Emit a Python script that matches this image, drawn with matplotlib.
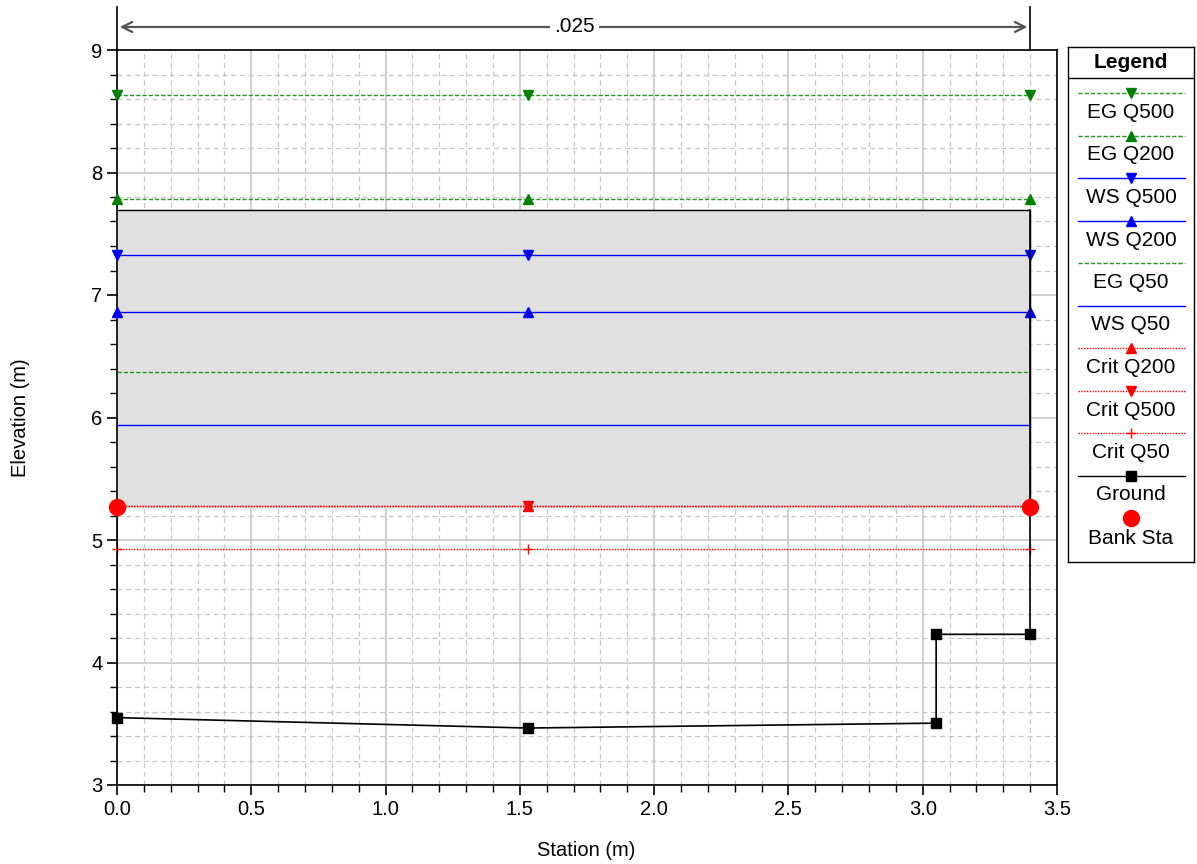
import matplotlib
matplotlib.use("Agg")
import matplotlib.pyplot as plt
from matplotlib.ticker import MultipleLocator, FormatStrFormatter

plt.rcParams['font.family'] = ['Liberation Sans', 'DejaVu Sans']

# ---- data ----
stations = [0.0, 1.53, 3.4]
eg_q500 = 8.63
eg_q200 = 7.78
ws_q500 = 7.33
ws_q200 = 6.86
eg_q50 = 6.37
ws_q50 = 5.94
crit_q200 = 5.28
crit_q500 = 5.28
crit_q50 = 4.93
bank_sta_x = [0.0, 3.4]
bank_sta_y = [5.27, 5.27]
ground_x = [0.0, 1.53, 3.05, 3.05, 3.4]
ground_y = [3.55, 3.465, 3.505, 4.23, 4.23]
lid_low = 5.27
lid_high = 7.69
lid_x = [0.0, 3.4]
mannings_label = ".025"

fig = plt.figure(figsize=(11.97, 8.64), dpi=100)
ax = fig.add_axes([117/1197, 1-785/864, 940/1197, 735/864])

ax.set_xlim(0, 3.5)
ax.set_ylim(3, 9)
ax.xaxis.set_major_locator(MultipleLocator(0.5))
ax.xaxis.set_minor_locator(MultipleLocator(0.1))
ax.yaxis.set_major_locator(MultipleLocator(1))
ax.yaxis.set_minor_locator(MultipleLocator(0.2))
ax.grid(which='major', color='#c8c8c8', linewidth=1.2, linestyle='-')
ax.grid(which='minor', color='#c8c8c8', linewidth=0.9, linestyle=(0, (4, 3)))
ax.set_axisbelow(True)
ax.tick_params(which='major', length=7, width=1.2, labelsize=14.5, direction='out')
ax.tick_params(which='minor', length=5, width=1.0, direction='out')
ax.xaxis.set_major_formatter(FormatStrFormatter('%.1f'))
for s in ax.spines.values():
    s.set_linewidth(1.2)

ax.set_xlabel('Station (m)', fontsize=14.5)
ax.set_ylabel('Elevation (m)', fontsize=14.5)
ax.xaxis.set_label_coords((586-117)/940, (785-850)/735)
ax.yaxis.set_label_coords((21-117)/940, (785-418)/735)
ax.xaxis.label.set_va('center')
ax.yaxis.label.set_va('center')

# lid / deck
ax.fill_between(lid_x, [lid_low]*2, [lid_high]*2, color='#e0e0e0', zorder=1)
ax.plot([lid_x[0], lid_x[1], lid_x[1]], [lid_high, lid_high, lid_low], color='black', lw=1.0, zorder=2)

ms = 6.5
eg_ls = (0, (3, 1.5))
eg_col = '#1f9a1f'
kw = dict(lw=1.0, zorder=3, clip_on=False)
ax.plot(stations, [eg_q500]*3, color=eg_col, ls=eg_ls, marker='v', ms=ms, mfc='green', mec='green', **kw)
ax.plot(stations, [eg_q200]*3, color=eg_col, ls=eg_ls, marker='^', ms=ms, mfc='green', mec='green', **kw)
ax.plot(stations, [ws_q500]*3, color='blue', marker='v', ms=ms, **kw)
ax.plot(stations, [ws_q200]*3, color='blue', marker='^', ms=ms, **kw)
ax.plot(stations, [eg_q50]*3, color=eg_col, ls=eg_ls, **kw)
ax.plot(stations, [ws_q50]*3, color='blue', **kw)
ax.plot(stations, [crit_q200]*3, color='red', ls=(0, (1, 1)), marker='^', ms=ms, **kw)
ax.plot(stations, [crit_q500]*3, color='red', ls=(0, (1, 1)), marker='v', ms=ms, **kw)
ax.plot(stations, [crit_q50]*3, color='red', ls=(0, (1, 1)), marker='+', ms=ms+1, **kw)

# ground
ax.plot([ground_x[-1], ground_x[-1]], [ground_y[-1], lid_high], color='black', lw=1.2, zorder=4)
ax.plot([ground_x[0], ground_x[0]], [ground_y[0], lid_low], color='black', lw=1.2, zorder=4)
ax.plot(ground_x, ground_y, color='black', lw=1.2, marker='s', ms=6.5, zorder=5, clip_on=False)
ax.plot(bank_sta_x, bank_sta_y, ls='none', marker='o', color='red', ms=11.5, zorder=6, clip_on=False)

# manning's n dimension line
dim_y = 9.188
for xv in lid_x:
    ax.plot([xv, xv], [9.0, 9.35], color='black', lw=1.2, clip_on=False)
for xv in lid_x:
    ax.annotate('', xy=(xv, dim_y), xytext=(1.7, dim_y),
                arrowprops=dict(arrowstyle='->', color='#555555', lw=1.6, mutation_scale=18),
                annotation_clip=False)
ax.text(1.705, dim_y, mannings_label, ha='center', va='center', fontsize=15,
        bbox=dict(facecolor='white', edgecolor='none', pad=3), clip_on=False, zorder=10)

# legend (manual)
lax = fig.add_axes([1068/1197, 1-562/864, 126/1197, 515/864])
lax.set_xlim(0, 126)
lax.set_ylim(515, 0)
lax.set_xticks([]); lax.set_yticks([])
for s in lax.spines.values():
    s.set_linewidth(1.0)
lax.text(63, 16, 'Legend', ha='center', va='center', fontsize=15, fontweight='bold')
lax.plot([0, 126], [31, 31], color='black', lw=1.0)

entries = [
    ('EG Q500', dict(color=eg_col, mc='green', ls=eg_ls, marker='v')),
    ('EG Q200', dict(color=eg_col, mc='green', ls=eg_ls, marker='^')),
    ('WS Q500', dict(color='blue', mc='blue', ls='-', marker='v')),
    ('WS Q200', dict(color='blue', mc='blue', ls='-', marker='^')),
    ('EG Q50', dict(color=eg_col, mc='green', ls=eg_ls, marker=None)),
    ('WS Q50', dict(color='blue', mc='blue', ls='-', marker=None)),
    ('Crit Q200', dict(color='red', mc='red', ls=(0, (1, 1)), marker='^')),
    ('Crit Q500', dict(color='red', mc='red', ls=(0, (1, 1)), marker='v')),
    ('Crit Q50', dict(color='red', mc='red', ls=(0, (1, 1)), marker='+')),
    ('Ground', dict(color='black', mc='black', ls='-', marker='s')),
]
y0 = 46
step = 42.5
for i, (lab, st) in enumerate(entries):
    yl = y0 + i * step
    lax.plot([10, 117], [yl, yl], color=st['color'], ls=st['ls'], lw=1.0)
    if st['marker']:
        lax.plot([63], [yl], color=st['mc'], marker=st['marker'],
                 ms=6.5 if st['marker'] != '+' else 7.5)
    lax.text(63, yl + 19.5, lab, ha='center', va='center', fontsize=15)
yl = y0 + len(entries) * step
lax.plot([63], [yl], color='red', marker='o', ms=11.5, ls='none')
lax.text(63, yl + 21, 'Bank Sta', ha='center', va='center', fontsize=15)

fig.savefig('out.png', dpi=100)
